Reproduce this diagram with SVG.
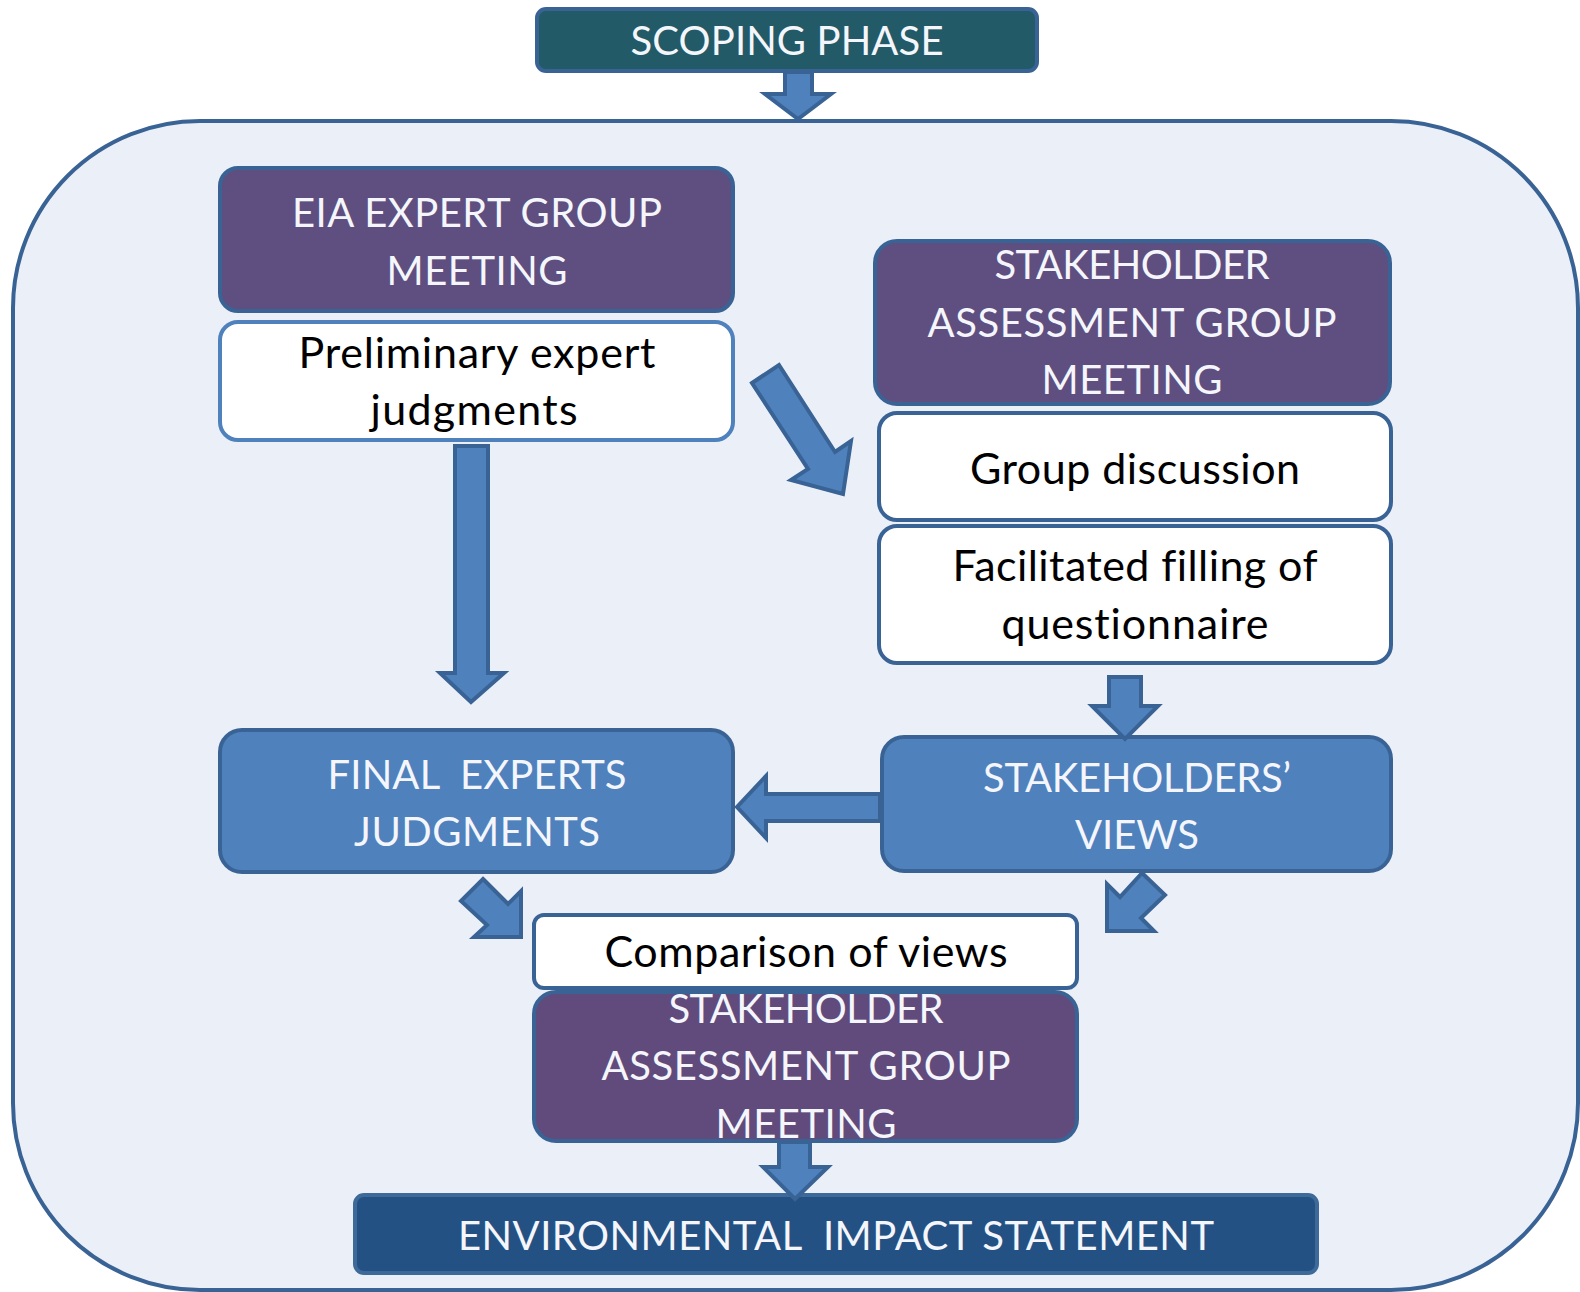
<svg xmlns="http://www.w3.org/2000/svg" width="1580" height="1292" viewBox="0 0 1580 1292">
<style>
.bx{stroke:#3a6395;stroke-width:4}
.pur{fill:#5e4f80}
.blu{fill:#4f81bd}
.wht{fill:#ffffff}
.lt{fill:#ffffff;stroke:#4f81bd;stroke-width:4}
.ar{fill:#4f81bd;stroke:#3a6395;stroke-width:4;stroke-linejoin:miter}
text{font-family:Lato,"Open Sans","Liberation Sans",sans-serif;font-size:40px;text-anchor:middle;white-space:pre;font-variant-ligatures:none}
.w{fill:#f4f6fb}
.k{fill:#000000;font-size:43px}
</style>
<rect width="1580" height="1292" fill="#ffffff"/>
<rect id="container" x="13" y="121" width="1565" height="1169" rx="187" ry="187" fill="#ebf0f8" stroke="#3a6395" stroke-width="4"/>
<g id="scoping"><rect x="537" y="9" width="500" height="62" rx="9" fill="#225a68" stroke="#3a6395" stroke-width="4"/><text class="w" x="787" y="55" textLength="313">SCOPING PHASE</text></g>
<g id="eia"><rect class="bx pur" x="220" y="168" width="513" height="143" rx="18"/><text class="w" x="477" y="227" textLength="370">EIA EXPERT GROUP</text><text class="w" x="477" y="285" textLength="181">MEETING</text></g>
<g id="prelim"><rect class="lt" x="220" y="322" width="513" height="118" rx="18"/><text class="k" x="477" y="368" textLength="357">Preliminary expert</text><text class="k" x="474" y="425" textLength="207">judgments</text></g>
<g id="sag1"><rect class="bx pur" x="875" y="241" width="515" height="163" rx="22"/><text class="w" x="1132" y="279" textLength="275">STAKEHOLDER</text><text class="w" x="1132" y="337" textLength="409">ASSESSMENT GROUP</text><text class="w" x="1132" y="394" textLength="181">MEETING</text></g>
<g id="groupdisc"><rect class="bx wht" x="879" y="413" width="512" height="107" rx="18"/><text class="k" x="1135" y="484" textLength="330">Group discussion</text></g>
<g id="facil"><rect class="bx wht" x="879" y="526" width="512" height="137" rx="18"/><text class="k" x="1135" y="581" textLength="365">Facilitated filling of</text><text class="k" x="1135" y="639" textLength="267">questionnaire</text></g>
<g id="stakeviews"><rect class="bx blu" x="882" y="737" width="509" height="134" rx="22"/><text class="w" x="1137" y="792" textLength="308">STAKEHOLDERS’</text><text class="w" x="1137" y="849" textLength="124">VIEWS</text></g>
<g id="final"><rect class="bx blu" x="220" y="730" width="513" height="142" rx="22"/><text class="w" x="477" y="789" textLength="299">FINAL  EXPERTS</text><text class="w" x="477" y="846" textLength="246">JUDGMENTS</text></g>
<g id="comparison"><rect class="bx wht" x="534" y="915" width="543" height="73" rx="10"/><text class="k" x="806" y="967" textLength="403">Comparison of views</text></g>
<g id="sag2"><rect class="bx" x="534" y="992" width="543" height="149" rx="22" fill="#604b7c"/><text class="w" x="806" y="1023" textLength="275">STAKEHOLDER</text><text class="w" x="806" y="1080" textLength="409">ASSESSMENT GROUP</text><text class="w" x="806" y="1138" textLength="181">MEETING</text></g>
<g id="eis"><rect x="355" y="1195" width="962" height="78" rx="9" fill="#245183" stroke="#3e6a9a" stroke-width="4"/><text class="w" x="836" y="1250" textLength="756">ENVIRONMENTAL  IMPACT STATEMENT</text></g>
<g id="connectors">
<polygon class="ar" points="785,72 812,72 812,94 831,94 798,119 765,94 785,94"/>
<polygon class="ar" points="455,446 488,446 488,673 504,673 471,702 440,673 455,673"/>
<polygon class="ar" points="752,383 779,365 835,452 851,441 843,494 791,480 808,469"/>
<polygon class="ar" points="1109,677 1141,677 1141,706 1158,706 1125,739 1092,706 1109,706"/>
<polygon class="ar" points="880,794 880,821 766,821 766,838 737,807 766,776 766,794"/>
<polygon class="ar" points="483,879 508,904 521,891 521,937 474,937 487,925 461,901"/>
<polygon class="ar" points="1142,873 1165,895 1141,918 1154,931 1107,931 1107,884 1120,897"/>
<polygon class="ar" points="779,1142 810,1142 810,1167 828,1167 795,1199 763,1167 779,1167"/>
</g>
</svg>
